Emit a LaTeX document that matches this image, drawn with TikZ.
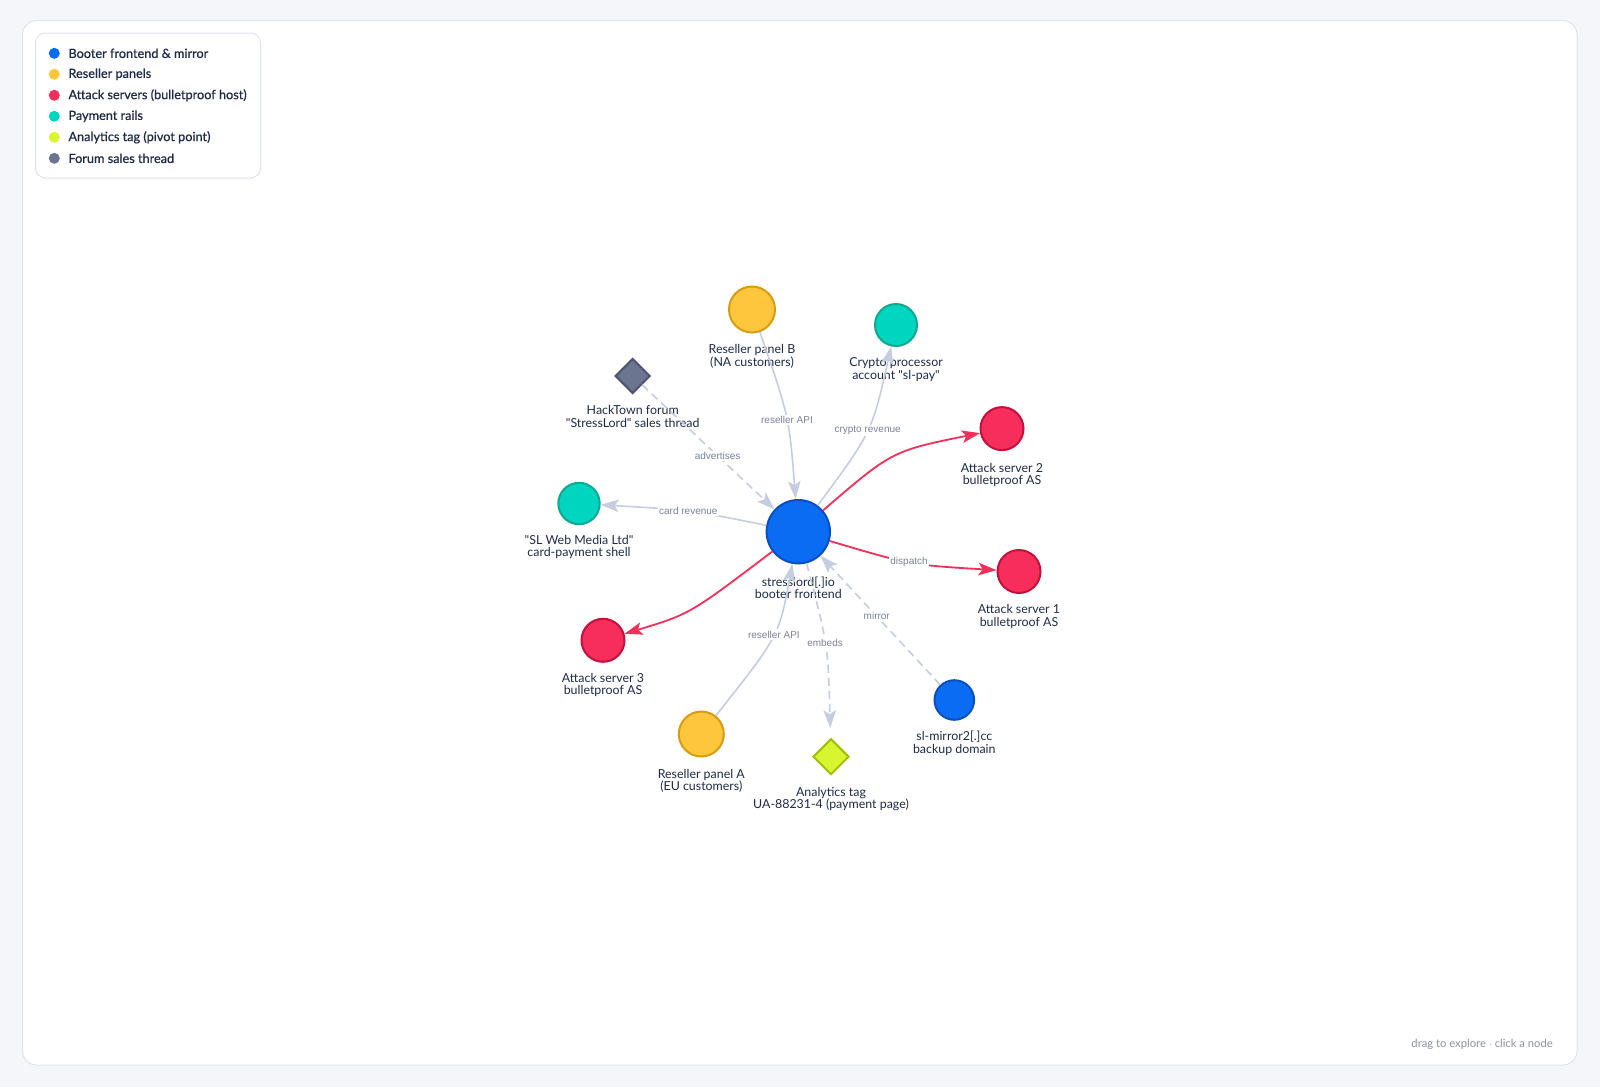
\documentclass[tikz,border=0pt]{standalone}
\usepackage{fontspec}
\setmainfont{Lato}[Ligatures=TeXOff]
\newfontfamily\edgefont{Liberation Sans}
\newfontfamily\legfont[FakeBold=0.7]{Lato}
\usetikzlibrary{shapes.geometric,arrows.meta}
\definecolor{bgc}{HTML}{F4F6FA}
\definecolor{cardline}{HTML}{DFE3EC}
\definecolor{cblue}{HTML}{0A6CF2}
\definecolor{cbluedk}{HTML}{0A4FBF}
\definecolor{cyel}{HTML}{FDC63C}
\definecolor{cyeldk}{HTML}{D69D12}
\definecolor{cred}{HTML}{F72D5B}
\definecolor{creddk}{HTML}{C2113C}
\definecolor{cteal}{HTML}{00D5BF}
\definecolor{ctealdk}{HTML}{12A890}
\definecolor{clime}{HTML}{D7F531}
\definecolor{climedk}{HTML}{A6BE00}
\definecolor{cslate}{HTML}{6C7590}
\definecolor{cslatedk}{HTML}{4B5370}
\definecolor{cedge}{HTML}{C6CDE0}
\definecolor{credge}{HTML}{F0305A}
\definecolor{ctext}{HTML}{1F2B45}
\definecolor{cetext}{HTML}{7C8299}
\definecolor{cfoot}{HTML}{8B90A3}
\begin{document}
\begin{tikzpicture}[x=1pt,y=-1pt,
  circ/.style={circle,inner sep=0pt,line width=2pt},
  dia/.style={diamond,aspect=1,inner sep=0pt,line width=2pt},
  nlabel/.style={anchor=north,inner sep=0pt,align=center,text=ctext,font=\fontsize{12.4}{12.3}\selectfont},
  elabel/.style={fill=white,inner sep=1.5pt,text=cetext,font=\edgefont\fontsize{10}{12}\selectfont},
  greyedge/.style={draw=cedge,line width=1.6pt,-{Stealth[length=18pt,width=12.5pt,inset=4pt]}},
  dashedge/.style={greyedge,dash pattern=on 8pt off 5pt},
  rededge/.style={draw=credge,line width=1.8pt,-{Stealth[length=18pt,width=12.5pt,inset=4pt]}},
  legdot/.style={circle,inner sep=0pt,minimum size=11pt},
  legtext/.style={anchor=west,inner sep=0pt,text=ctext,font=\legfont\fontsize{12.7}{14}\selectfont}
]
\fill[bgc] (0,0) rectangle (1600,1087);
\useasboundingbox (0,0) rectangle (1600,1087);
\draw[cardline,fill=white,rounded corners=14pt,line width=1pt] (22.5,20.5) rectangle (1577,1065);

% legend
\draw[cardline,fill=white,rounded corners=10pt,line width=1pt] (35.5,33) rectangle (260.5,178);
\node[legdot,fill=cblue] (d1) at (54.3,53.3) {};
\node[legtext] (t1) at (68.3,53.3) {Booter frontend \& mirror};
\node[legdot,fill=cyel] (d2) at (54.3,74.3) {};
\node[legtext] (t2) at (68.3,74.3) {Reseller panels};
\node[legdot,fill=cred] (d3) at (54.3,95.3) {};
\node[legtext] (t3) at (68.3,95.3) {Attack servers (bulletproof host)};
\node[legdot,fill=cteal] (d4) at (54.3,116.3) {};
\node[legtext] (t4) at (68.3,116.3) {Payment rails};
\node[legdot,fill=clime] (d5) at (54.3,137.3) {};
\node[legtext] (t5) at (68.3,137.3) {Analytics tag (pivot point)};
\node[legdot,fill=cslate] (d6) at (54.3,158.3) {};
\node[legtext] (t6) at (68.3,158.3) {Forum sales thread};

% nodes
\node[circ,fill=cblue,draw=cbluedk,minimum size=63.4pt] (c) at (798.3,531.7) {};
\node[nlabel] (cl) at (798.3,576.4) {stresslord[.]io\\booter frontend};
\node[circ,fill=cyel,draw=cyeldk,minimum size=46pt] (rb) at (752,309.5) {};
\node[nlabel] (rbl) at (752,344.4) {Reseller panel B\\(NA customers)};
\node[circ,fill=cteal,draw=ctealdk,minimum size=42pt] (cp) at (896,325) {};
\node[nlabel] (cpl) at (896,357.6) {Crypto processor\\account "sl-pay"};
\node[dia,fill=cslate,draw=cslatedk,minimum size=35pt] (ht) at (632.7,376) {};
\node[nlabel] (htl) at (632.7,405.6) {HackTown forum\\"StressLord" sales thread};
\node[circ,fill=cred,draw=creddk,minimum size=43pt] (as2) at (1002,428.6) {};
\node[nlabel] (as2l) at (1002,462.7) {Attack server 2\\bulletproof AS};
\node[circ,fill=cteal,draw=ctealdk,minimum size=41.4pt] (sh) at (579,503.5) {};
\node[nlabel] (shl) at (579,535.2) {"SL Web Media Ltd"\\card-payment shell};
\node[circ,fill=cred,draw=creddk,minimum size=43pt] (as1) at (1019,571.5) {};
\node[nlabel] (as1l) at (1019,604.6) {Attack server 1\\bulletproof AS};
\node[circ,fill=cred,draw=creddk,minimum size=43pt] (as3) at (603,640.3) {};
\node[nlabel] (as3l) at (603,673) {Attack server 3\\bulletproof AS};
\node[circ,fill=cyel,draw=cyeldk,minimum size=45pt] (ra) at (701.3,734) {};
\node[nlabel] (ral) at (701.3,769) {Reseller panel A\\(EU customers)};
\node[dia,fill=clime,draw=climedk,minimum size=36pt] (tag) at (831,756.7) {};
\node[nlabel] (tagl) at (831,787.2) {Analytics tag\\UA-88231-4 (payment page)};
\node[circ,fill=cblue,draw=cbluedk,minimum size=39.6pt] (mir) at (954.3,700) {};
\node[nlabel] (mirl) at (954.3,731.1) {sl-mirror2[.]cc\\backup domain};

% edges
\draw[greyedge] (rb) .. controls (789,416) .. (c) node[pos=0.53,elabel] (e1) {reseller API};
\draw[greyedge] (c) .. controls (872,432) .. (cp) node[pos=0.5,elabel] (e2) {crypto revenue};
\draw[dashedge] (ht) -- (c) node[pos=0.57,elabel] (e3) {advertises};
\draw[greyedge] (c) .. controls (690,510) .. (sh) node[pos=0.5,elabel] (e4) {card revenue};
\draw[rededge] (c) .. controls (892,451) .. (as2);
\draw[rededge] (c) .. controls (911,565) .. (as1) node[pos=0.48,elabel] (e6) {dispatch};
\draw[rededge] (c) .. controls (690,614) .. (as3);
\draw[greyedge] (ra) .. controls (779,636) .. (c) node[pos=0.52,elabel] (e8) {reseller API};
\draw[dashedge,shorten >=10pt] (c) .. controls (828,645) .. (tag) node[pos=0.47,elabel] (e9) {embeds};
\draw[dashedge] (mir) -- (c) node[pos=0.53,elabel] (e10) {mirror};

\node[anchor=east,inner sep=0pt,text=cfoot,font=\fontsize{11.25}{13}\selectfont] (foot) at (1553,1044) {drag to explore $\cdot$ click a node};
\end{tikzpicture}
\end{document}
